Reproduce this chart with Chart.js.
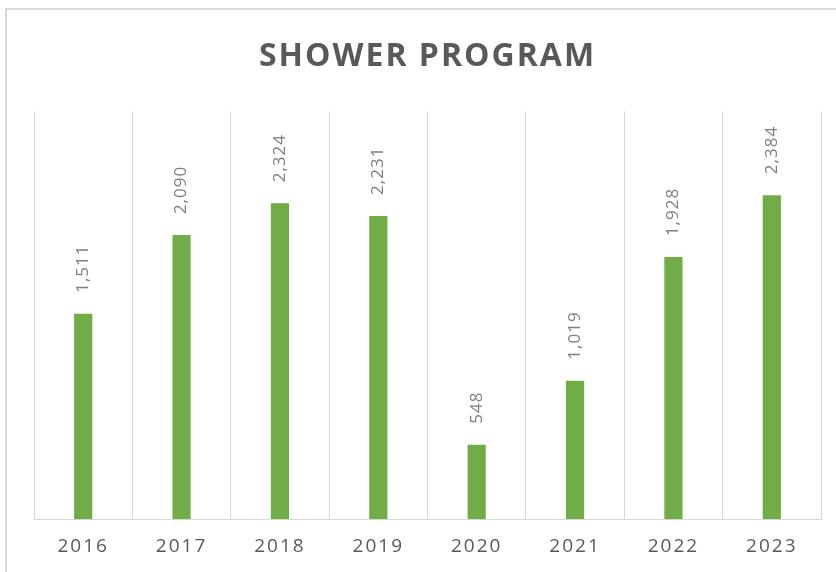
<!DOCTYPE html>
<html>
<head>
<meta charset="utf-8">
<script src="https://cdn.jsdelivr.net/npm/chart.js@4"></script>
<style>
    body { margin: 0; background: #fff; overflow: hidden; }
    #frame {
        position: absolute;
        left: 5px;
        top: 8px;
        width: 900px;
        height: 700px;
        border-top: 2px solid #d9d9d9;
        border-left: 2px solid #d9d9d9;
    }
    #myChart { position: absolute; left: 0; top: 0; }
</style>
</head>
<body>
<div id="frame"></div>
<canvas id="myChart" width="836" height="572"></canvas>
<script>
const years = ['2016', '2017', '2018', '2019', '2020', '2021', '2022', '2023'];
const showers = [1511, 2090, 2324, 2231, 548, 1019, 1928, 2384];

// draws the rotated value labels above each bar
const barValueLabels = {
    id: 'barValueLabels',
    afterDatasetsDraw(chart) {
        const ctx = chart.ctx;
        const meta = chart.getDatasetMeta(0);
        ctx.save();
        ctx.fillStyle = '#7f7f7f';
        ctx.font = '17px "Open Sans"';
        ctx.letterSpacing = '1px';
        ctx.textAlign = 'left';
        ctx.textBaseline = 'middle';
        meta.data.forEach((bar, i) => {
            ctx.save();
            ctx.translate(bar.x, bar.y - 21);
            ctx.rotate(-Math.PI / 2);
            ctx.fillText(showers[i].toLocaleString('en-US'), 0, 0);
            ctx.restore();
        });
        ctx.restore();
    }
};

// letter spacing for axis text and title
const spacing = {
    id: 'spacing',
    beforeDraw(chart) {
        chart.ctx.letterSpacing = '2px';
    }
};

const ctx = document.getElementById('myChart').getContext('2d');
const myChart = new Chart(ctx, {
    type: 'bar',
    data: {
        labels: years,
        datasets: [
            {
                label: 'Shower Program',
                data: showers,
                backgroundColor: '#70ad47',
                borderWidth: 0,
                categoryPercentage: 1,
                barPercentage: 0.185
            }
        ]
    },
    options: {
        responsive: false,
        animation: false,
        layout: {
            padding: { left: 34, right: 15, top: 0, bottom: -2 }
        },
        scales: {
            x: {
                grid: {
                    offset: true,
                    color: '#d9d9d9',
                    lineWidth: 1,
                    drawTicks: false,
                    tickLength: 0
                },
                border: { color: '#d9d9d9', width: 1 },
                ticks: {
                    color: '#595959',
                    padding: 16,
                    font: { size: 19, family: '"Open Sans"' }
                }
            },
            y: {
                display: false,
                min: 0,
                max: 3000
            }
        },
        plugins: {
            legend: { display: false },
            tooltip: { enabled: false },
            title: {
                display: true,
                text: 'SHOWER PROGRAM',
                color: '#595959',
                font: { size: 32, weight: 'bold', family: '"Open Sans"' },
                padding: { top: 38, bottom: 35 }
            }
        }
    },
    plugins: [spacing, barValueLabels]
});
</script>
</body>
</html>
